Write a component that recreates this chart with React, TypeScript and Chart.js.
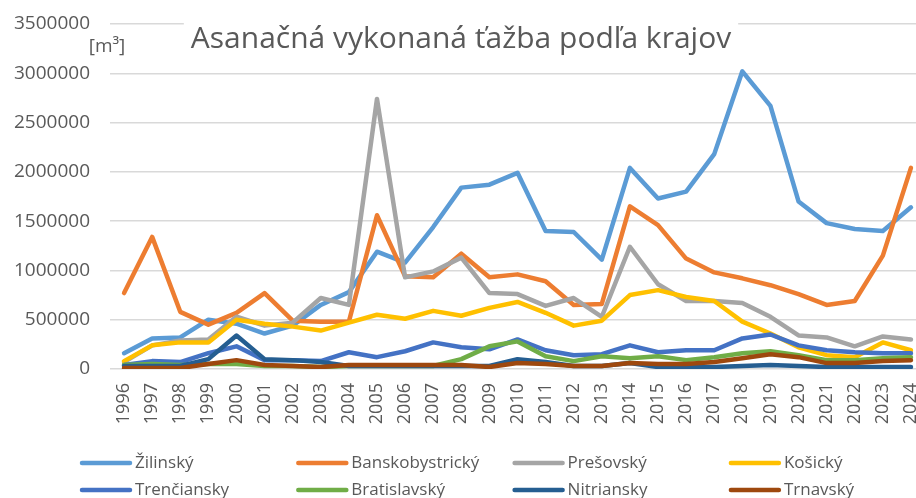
import React, { useEffect, useRef } from "react";
import { Chart, registerables } from "chart.js";

Chart.register(...registerables);

const years = ["1996","1997","1998","1999","2000","2001","2002","2003","2004","2005","2006","2007","2008","2009","2010","2011","2012","2013","2014","2015","2016","2017","2018","2019","2020","2021","2022","2023","2024"];

const yTicks = [0, 500000, 1000000, 1500000, 2000000, 2500000, 3000000, 3500000];

const zilinsky = [160000,310000,320000,500000,460000,360000,440000,650000,780000,1190000,1080000,1440000,1840000,1870000,1990000,1400000,1390000,1110000,2040000,1730000,1800000,2180000,3020000,2670000,1700000,1480000,1420000,1400000,1640000];
const banskobystricky = [770000,1340000,580000,450000,570000,770000,490000,480000,480000,1560000,940000,930000,1170000,930000,960000,890000,650000,660000,1650000,1460000,1120000,980000,920000,850000,760000,650000,690000,1150000,2040000];
const presovsky = [70000,240000,290000,300000,530000,440000,470000,720000,650000,2740000,930000,990000,1130000,770000,760000,640000,720000,530000,1240000,860000,690000,690000,670000,530000,340000,320000,230000,330000,300000];
const kosicky = [80000,240000,270000,270000,500000,460000,430000,390000,470000,550000,510000,590000,540000,620000,680000,570000,440000,490000,750000,800000,730000,690000,480000,360000,220000,140000,120000,270000,190000];
const trenciansky = [40000,80000,70000,160000,230000,90000,90000,80000,170000,120000,180000,270000,220000,200000,300000,190000,140000,150000,240000,170000,190000,190000,310000,350000,240000,190000,170000,160000,160000];
const bratislavsky = [40000,50000,40000,50000,50000,30000,30000,20000,30000,30000,30000,30000,100000,230000,280000,130000,80000,130000,110000,130000,90000,120000,160000,180000,140000,90000,90000,110000,120000];
const nitriansky = [30000,30000,30000,100000,340000,100000,90000,70000,30000,30000,30000,30000,30000,30000,100000,70000,30000,30000,60000,20000,20000,20000,30000,40000,30000,20000,20000,20000,20000];
const trnavsky = [10000,10000,10000,50000,90000,40000,30000,20000,40000,40000,40000,40000,40000,20000,60000,50000,30000,30000,60000,50000,50000,70000,110000,150000,120000,60000,60000,80000,90000];

const seriesNames = ["Žilinský","Banskobystrický","Prešovský","Košický","Trenčiansky","Bratislavský","Nitriansky","Trnavský"];
const seriesData = [zilinsky, banskobystricky, presovsky, kosicky, trenciansky, bratislavsky, nitriansky, trnavsky];
const seriesColors = ["#5B9BD5","#ED7D31","#A5A5A5","#FFC000","#4472C4","#70AD47","#255E91","#9E480E"];

const titleText = "Asanačná vykonaná ťažba podľa krajov";
const unitText = "[m³]";

const FONT = "'Open Sans', 'Liberation Sans', sans-serif";
const TEXT_COLOR = "#595959";

const decorPlugin = {
  id: "decor",
  afterDraw(chart: any) {
    const ctx = chart.ctx;
    ctx.save();
    // title
    ctx.font = `30px ${FONT}`;
    const tw = ctx.measureText(titleText).width;
    const cx = 461;
    const cy = 39;
    ctx.fillStyle = "#ffffff";
    ctx.fillRect(cx - tw / 2 - 7, cy - 21, tw + 14, 42);
    ctx.fillStyle = TEXT_COLOR;
    ctx.textAlign = "center";
    ctx.textBaseline = "middle";
    ctx.fillText(titleText, cx, cy);
    // unit
    ctx.font = `19px ${FONT}`;
    ctx.fillText(unitText, 107, 47);
    // legend
    const ds = chart.data.datasets;
    ctx.textAlign = "left";
    ctx.font = `17px ${FONT}`;
    for (let i = 0; i < ds.length; i++) {
      const col = i % 4;
      const row = Math.floor(i / 4);
      const x0 = 80 + col * 216.3;
      const y = 463 + row * 27;
      ctx.strokeStyle = ds[i].borderColor;
      ctx.lineWidth = 4.5;
      ctx.lineCap = "round";
      ctx.beginPath();
      ctx.moveTo(x0 + 2, y);
      ctx.lineTo(x0 + 50, y);
      ctx.stroke();
      ctx.fillStyle = TEXT_COLOR;
      ctx.fillText(ds[i].label, x0 + 55, y);
    }
    ctx.restore();
  },
};

export default function App() {
  const ref = useRef<HTMLCanvasElement>(null);
  useEffect(() => {
    if (!ref.current) return;
    const chart = new Chart(ref.current, {
      type: "line",
      data: {
        labels: years,
        datasets: seriesData.map((d, i) => ({
          label: seriesNames[i],
          data: d,
          borderColor: seriesColors[i],
          backgroundColor: seriesColors[i],
          borderWidth: 4.5,
          pointRadius: 0,
          tension: 0,
          borderJoinStyle: "round" as const,
          borderCapStyle: "round" as const,
          order: seriesData.length - 1 - i,
        })),
      },
      options: {
        responsive: false,
        animation: false,
        layout: { padding: { top: 24, left: 0, right: 0, bottom: 60 } },
        plugins: {
          legend: { display: false },
          title: { display: false },
          tooltip: { enabled: false },
        },
        scales: {
          x: {
            offset: true,
            grid: { display: false, drawTicks: false, offset: true },
            border: { display: false },
            ticks: {
              minRotation: 90,
              maxRotation: 90,
              autoSkip: false,
              padding: 14,
              color: TEXT_COLOR,
              font: { family: FONT, size: 18 },
            },
            afterFit(scale: any) {
              scale.height = 69;
              scale.paddingLeft = 0;
              scale.paddingRight = 0;
            },
          },
          y: {
            min: 0,
            max: 3500000,
            afterBuildTicks(scale: any) {
              scale.ticks = yTicks.map((v) => ({ value: v }));
            },
            grid: { color: "#d9d9d9", lineWidth: 1.5, drawTicks: false },
            border: { display: false },
            ticks: {
              padding: 20,
              color: TEXT_COLOR,
              font: { family: FONT, size: 19 },
              callback: (v: any) => String(v),
            },
            afterFit(scale: any) {
              scale.width = 110;
              scale.paddingTop = 0;
              scale.paddingBottom = 0;
            },
          },
        },
      },
      plugins: [decorPlugin],
    });
    return () => chart.destroy();
  }, []);
  return (
    <div style={{ position: "absolute", left: 0, top: 0, width: 916, height: 498, overflow: "hidden", background: "#fff" }}>
      <canvas ref={ref} width={925} height={498} style={{ display: "block" }} />
    </div>
  );
}
